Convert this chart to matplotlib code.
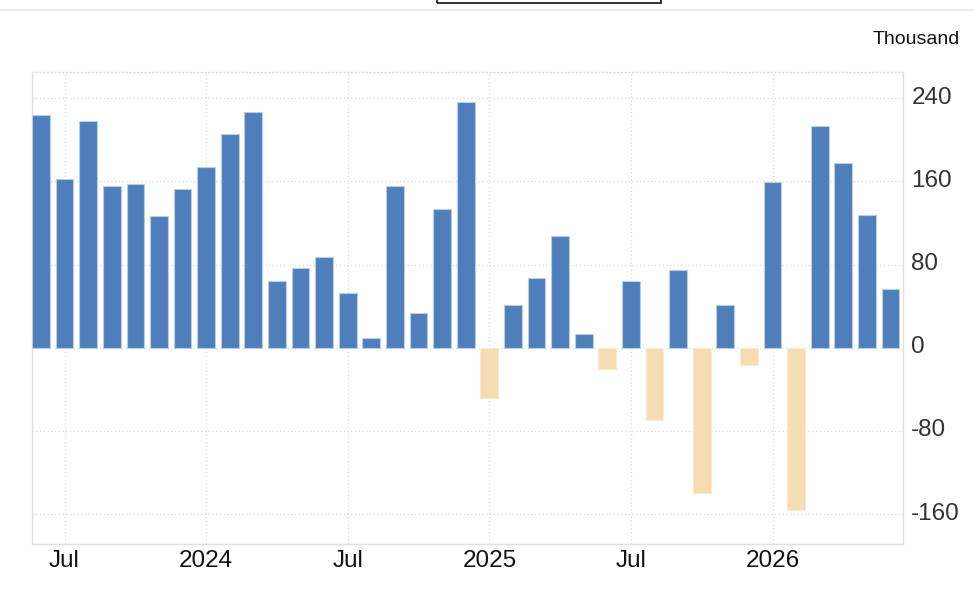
import matplotlib
matplotlib.use("Agg")
import matplotlib.pyplot as plt
from matplotlib.patches import Rectangle
from matplotlib.lines import Line2D
from matplotlib.transforms import ScaledTranslation

plt.rcParams['font.family'] = ['Liberation Sans', 'DejaVu Sans']

months = ["Jun 2023", "Jul 2023", "Aug 2023", "Sep 2023", "Oct 2023", "Nov 2023", "Dec 2023",
          "Jan 2024", "Feb 2024", "Mar 2024", "Apr 2024", "May 2024", "Jun 2024", "Jul 2024",
          "Aug 2024", "Sep 2024", "Oct 2024", "Nov 2024", "Dec 2024",
          "Jan 2025", "Feb 2025", "Mar 2025", "Apr 2025", "May 2025", "Jun 2025", "Jul 2025",
          "Aug 2025", "Sep 2025", "Oct 2025", "Nov 2025", "Dec 2025",
          "Jan 2026", "Feb 2026", "Mar 2026", "Apr 2026", "May 2026", "Jun 2026"]
values = [224, 162, 218, 155, 157, 127, 153, 174, 205, 227, 64, 77, 87, 53, 9, 155, 33, 133, 236,
          -48, 41, 67, 107, 13, -20, 64, -69, 75, -140, 41, -17, 159, -156, 213, 178, 128, 56]
tick_months = ["Jul 2023", "Jan 2024", "Jul 2024", "Jan 2025", "Jul 2025", "Jan 2026"]
tick_labels = ["Jul", "2024", "Jul", "2025", "Jul", "2026"]
y_ticks = [-160, -80, 0, 80, 160, 240]
unit_label = "Thousand"

W, H = 974, 602
fig = plt.figure(figsize=(W / 100, H / 100), dpi=100)
ax = fig.add_axes([32 / W, 1 - 544 / H, (903 - 32) / W, (544 - 72) / H])

x = list(range(len(values)))
colors = ['#4f7fbb' if v >= 0 else '#f6dcb2' for v in values]
edges = ['#b9cde6' if v >= 0 else '#faead0' for v in values]
ax.bar(x, values, width=0.75, color=colors, edgecolor=edges, linewidth=0.8, zorder=3)

ax.set_xlim(-0.38, 36.53)
ax.set_ylim(-188.6, 265)

tick_pos = [months.index(m) for m in tick_months]
ax.set_xticks(tick_pos)
ax.set_xticklabels(tick_labels, fontsize=17.5, color='#111111')
ax.set_yticks(y_ticks)
ax.set_yticklabels([str(v) for v in y_ticks], fontsize=17.5, color='#333333')
ax.yaxis.tick_right()
ax.tick_params(axis='x', length=0, pad=4)
ax.tick_params(axis='y', length=0, pad=6)
shift = ScaledTranslation(0, 3 / 100, fig.dpi_scale_trans)
for lab in ax.get_yticklabels():
    lab.set_horizontalalignment('left')
    lab.set_va('center_baseline')
    lab.set_transform(lab.get_transform() + shift)

ax.grid(True, color='#dcdcdc', linestyle=(0, (1, 2)), linewidth=0.9, zorder=0)

for side in ['left', 'right', 'bottom']:
    ax.spines[side].set_color('#e0e0e0')
    ax.spines[side].set_linewidth(1)
ax.spines['top'].set_color('#dcdcdc')
ax.spines['top'].set_linestyle((0, (1, 2)))
ax.spines['top'].set_linewidth(0.9)

fig.text(960 / W, 1 - 39 / H, unit_label, fontsize=14, ha='right', va='center', color='#111111')

# top decoration: separator line and cut-off box
fig.add_artist(Line2D([0, 1], [1 - 10.3 / H, 1 - 10.3 / H], color='#e6e6e6', linewidth=1.2,
                      transform=fig.transFigure))
fig.add_artist(Rectangle((437 / W, 1 - 2.5 / H), (661 - 437) / W, 10 / H, fill=False,
                         edgecolor='#111111', linewidth=1.2, transform=fig.transFigure))

fig.savefig("out.png", dpi=100, facecolor='white')
